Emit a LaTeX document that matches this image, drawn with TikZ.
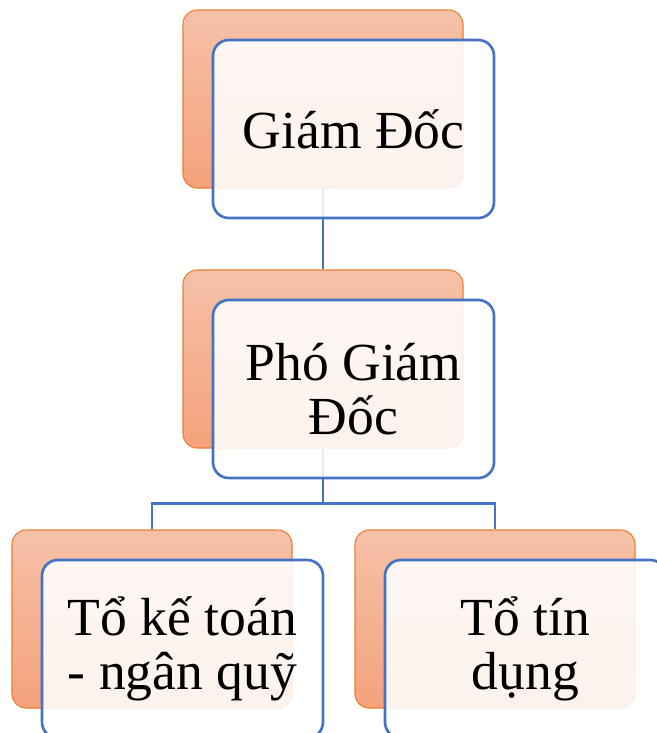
\documentclass[tikz,border=0pt]{standalone}
\usepackage{fontspec}
\setmainfont{Liberation Serif}
\usepackage{xcolor}
\usepackage{tikz}
\usetikzlibrary{positioning,backgrounds}
\definecolor{Line}{HTML}{4472C4}
\definecolor{Edge}{HTML}{ED7D31}
\definecolor{PaleOrange}{HTML}{F6C1A9}
\definecolor{DeepOrange}{HTML}{F4A27B}
\tikzset{
  backbox/.style={draw=Edge,line width=0.6pt,rounded corners=8pt,
              top color=PaleOrange,bottom color=DeepOrange,
              minimum width=5.6cm,minimum height=3.56cm,inner sep=0pt},
  frontbox/.style={draw=Line,line width=1.5pt,rounded corners=9pt,fill=white,
              fill opacity=0.87,text opacity=1,align=center,
              minimum width=5.62cm,minimum height=3.56cm,inner sep=2pt,
              font=\fontsize{30.5}{31}\selectfont},
  link/.style={draw=Line,line width=1.5pt}
}
\begin{document}
\begin{tikzpicture}
  \useasboundingbox (0,0) rectangle (13.14,-14.66);
  % back layer
  \node[backbox] (gdbg) at (6.46,-1.98) {};
  \node[frontbox] (gd) at ([xshift=6.1mm,yshift=-6mm]gdbg.center) {Giám Đốc};
  \node[backbox] (pgdbg) at (6.46,-7.18) {};
  \node[frontbox] (pgd) at ([xshift=6.1mm,yshift=-6mm]pgdbg.center) {Phó Giám\\Đốc};
  \node[backbox] (ktbg) at (3.04,-12.38) {};
  \node[frontbox] (kt) at ([xshift=6.1mm,yshift=-6mm]ktbg.center) {Tổ kế toán\\- ngân quỹ};
  \node[backbox] (tdbg) at (9.9,-12.38) {};
  \node[frontbox] (td) at ([xshift=6.1mm,yshift=-6mm]tdbg.center) {Tổ tín\\dụng};
  % connectors
  \begin{scope}[on background layer]
    \coordinate[below=1.1cm of pgdbg.south] (split);
    \draw[link] (gdbg.south) -- (pgdbg.north);
    \draw[link] (pgdbg.south) -- (split);
    \draw[link] (split) -| (ktbg.north);
    \draw[link] (split) -| (tdbg.north);
  \end{scope}
\end{tikzpicture}
\end{document}
